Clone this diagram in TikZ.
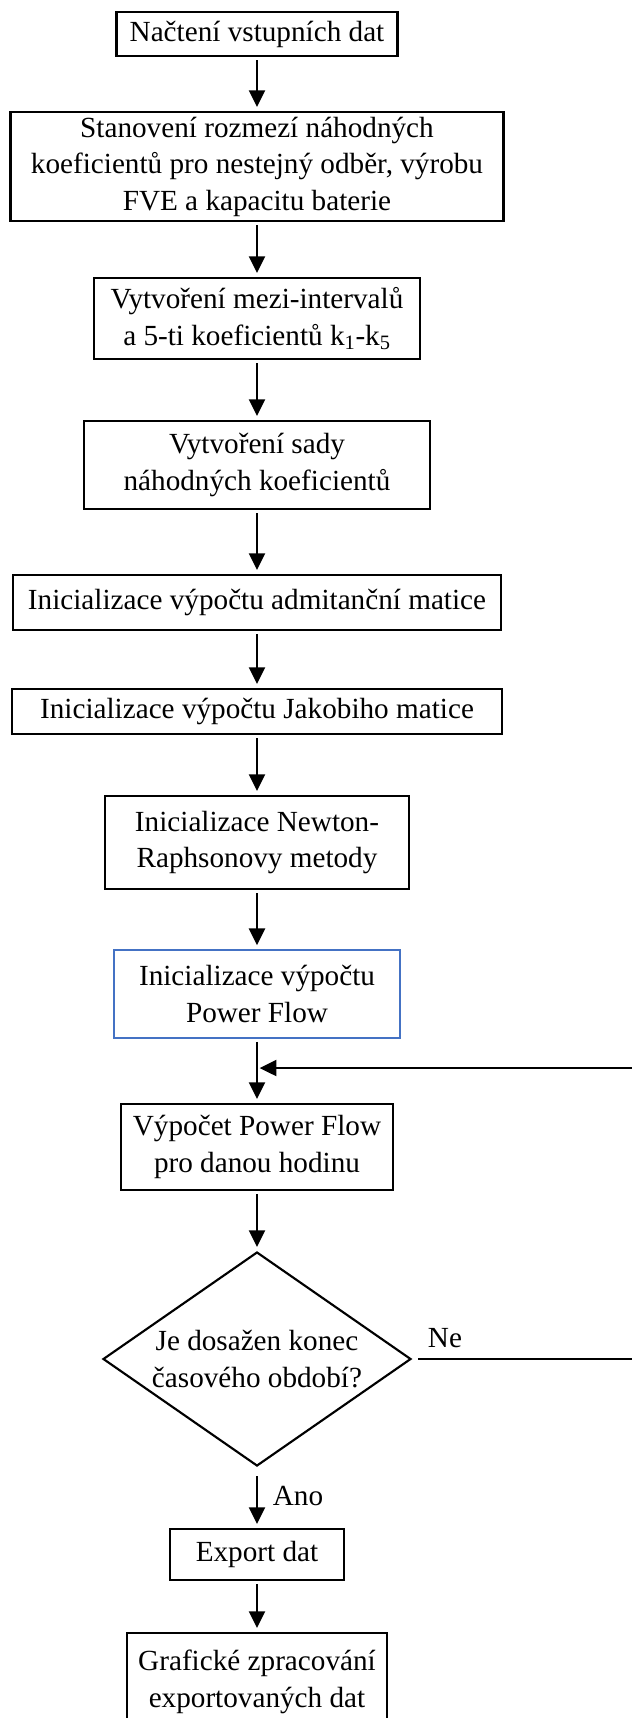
\documentclass[tikz,border=0pt]{standalone}
\usepackage{fontspec}
\setmainfont{Liberation Serif}
\usetikzlibrary{arrows.meta,shapes.geometric}
\definecolor{pfblue}{RGB}{68,114,196}

\begin{document}
\begin{tikzpicture}[x=0.75pt,y=-0.75pt,font=\fontsize{21.9}{27.4}\selectfont,
  box/.style={draw,line width=1.6pt,align=center,inner sep=0pt},
  flow/.style={line width=1.5pt,-{Triangle[width=12pt,length=12.5pt]},shorten <=2.25pt,shorten >=3pt}]

\useasboundingbox (0,0) rectangle (632,1718);

\begin{scope}
\node[box,minimum width=210.75pt,minimum height=33pt] (load) at (257,34) {Načtení vstupních dat};
\node[box,minimum width=369.75pt,minimum height=81.75pt] (range) at (257,166.5) {Stanovení rozmezí náhodných\\koeficientů pro nestejný odběr, výrobu\\FVE a kapacitu baterie};
\node[box,minimum width=244.5pt,minimum height=60.75pt] (coef) at (257,318.5) {Vytvoření mezi-intervalů\\a 5-ti koeficientů k\textsubscript{1}-k\textsubscript{5}};
\node[box,minimum width=259.5pt,minimum height=66pt] (set) at (257,465) {Vytvoření sady\\náhodných koeficientů};
\node[box,minimum width=366pt,minimum height=41.25pt] (ybus) at (257,602.5) {Inicializace výpočtu admitanční matice};
\node[box,minimum width=367.5pt,minimum height=33.75pt] (jac) at (257,711.5) {Inicializace výpočtu Jakobiho matice};
\node[box,minimum width=228pt,minimum height=69.75pt] (nr) at (257,842.5) {Inicializace Newton-\\Raphsonovy metody};
\node[box,draw=pfblue,line width=1.3pt,minimum width=214.5pt,minimum height=66pt] (init) at (257,994) {Inicializace výpočtu\\Power Flow};
\node[box,minimum width=204pt,minimum height=64.5pt] (calc) at (257,1147) {Výpočet Power Flow\\pro danou hodinu};
\node[box,diamond,shape aspect=1.44,minimum width=231pt,minimum height=160.5pt] (test) at (257,1359) {Je dosažen konec\\časového období?};
\node[box,minimum width=130.5pt,minimum height=38.25pt] (export) at (257,1554.5) {Export dat};
\node[box,minimum width=195pt,minimum height=73.5pt] (plot) at (257,1682) {Grafické zpracování\\exportovaných dat};

\coordinate (merge) at (257,1068);
\coordinate (turn) at (700,1359);

\draw[flow] (load) -- (range);
\draw[flow] (range) -- (coef);
\draw[flow] (coef) -- (set);
\draw[flow] (set) -- (ybus);
\draw[flow] (ybus) -- (jac);
\draw[flow] (jac) -- (nr);
\draw[flow] (nr) -- (init);
\draw[flow] (init) -- (calc);
\draw[flow] (calc) -- (test);
\draw[flow,shorten <=6.75pt] (test) -- (export);
\draw[flow] (export) -- (plot);

% loop back
\draw[flow,shorten <=4.5pt,shorten >=2pt] (test.east) -- (turn) |- (merge);

\node (ne) at (445,1338) {Ne};
\node (ano) at (298,1496) {Ano};
\end{scope}

\end{tikzpicture}
\end{document}
